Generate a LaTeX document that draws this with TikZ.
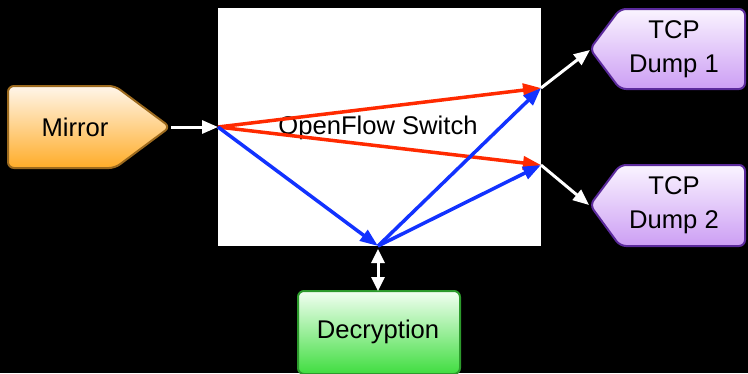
\documentclass[tikz,border=0pt]{standalone}
\usepackage{fontspec}
\setmainfont{Liberation Sans}
\usetikzlibrary{arrows.meta}
\definecolor{redl}{HTML}{FF2A00}
\definecolor{bluel}{HTML}{1232FF}
\definecolor{orTop}{HTML}{FFF6EA}
\definecolor{orBot}{HTML}{FFAC28}
\definecolor{orEdge}{HTML}{9C6A1E}
\definecolor{puTop}{HTML}{FAF4FF}
\definecolor{puBot}{HTML}{CC9EF4}
\definecolor{puEdge}{HTML}{5B2A9C}
\definecolor{grTop}{HTML}{F2FFF2}
\definecolor{grBot}{HTML}{40DD40}
\definecolor{grEdge}{HTML}{2C9A2C}
\begin{document}
\begin{tikzpicture}[x=1pt,y=-1pt,
  lbl/.style={font=\fontsize{25.6}{30}\selectfont, align=center, inner sep=0pt, text=black},
  shapeline/.style={line width=2pt, rounded corners=6pt},
  wharrow/.style={draw=white, line width=3pt, -{Triangle[length=16pt,width=13pt]}},
  whdouble/.style={draw=white, line width=3pt, {Triangle[length=14pt,width=13pt]}-{Triangle[length=14pt,width=13pt]}},
  redarrow/.style={draw=redl, line width=3.5pt, -{Triangle[length=18pt,width=13pt]}},
  bluearrow/.style={draw=bluel, line width=3.5pt, -{Triangle[length=18pt,width=13pt]}}]
\fill[black] (0,0) rectangle (748,373);
\useasboundingbox (0,0) rectangle (748,373);

% switch
\node[fill=white, minimum width=323pt, minimum height=238pt, inner sep=0pt, anchor=north west, lbl] (sw) at (218,8) {};
\node[lbl] (swtext) at (378,128) {OpenFlow Switch};

% Mirror
\draw[shapeline, draw=orEdge, top color=orTop, bottom color=orBot]
  (8,86) -- (115,86) -- (170,127) -- (115,168) -- (8,168) -- cycle;
\node[lbl] (mirror) at (75,127) {Mirror};

% TCP Dump 1
\draw[shapeline, draw=puEdge, top color=puTop, bottom color=puBot]
  (590,49) -- (620,9) -- (745,9) -- (745,89) -- (620,89) -- cycle;
\node[lbl] (tcp1) at (674,49) {TCP\\[4pt]Dump 1};

% TCP Dump 2
\draw[shapeline, draw=puEdge, top color=puTop, bottom color=puBot]
  (590,205) -- (620,165) -- (745,165) -- (745,246) -- (620,246) -- cycle;
\node[lbl] (tcp2) at (674,205) {TCP\\[4pt]Dump 2};

% Decryption
\draw[shapeline, draw=grEdge, top color=grTop, bottom color=grBot]
  (298,291) rectangle (460,374);
\node[lbl] (decr) at (378,332) {Decryption};

% coordinates
\coordinate (mtip) at (171,127);
\coordinate (swin) at (218,127);
\coordinate (o1) at (541,88);
\coordinate (o2) at (541,165);
\coordinate (sb) at (378,246);
\coordinate (sbo) at (378,249);
\coordinate (t1) at (590,50);
\coordinate (t2) at (589,205);
\coordinate (dtop) at (378,291);

% connectors
\draw[wharrow] (mtip) -- (swin);
\draw[redarrow] (swin) -- (o1);
\draw[redarrow] (swin) -- (o2);
\draw[bluearrow] (swin) -- (sb);
\draw[bluearrow] (sb) -- (o1);
\draw[bluearrow] (sb) -- (o2);
\draw[wharrow] (o1) -- (t1);
\draw[wharrow] (o2) -- (t2);
\draw[whdouble] (sbo) -- (dtop);
\end{tikzpicture}
\end{document}
